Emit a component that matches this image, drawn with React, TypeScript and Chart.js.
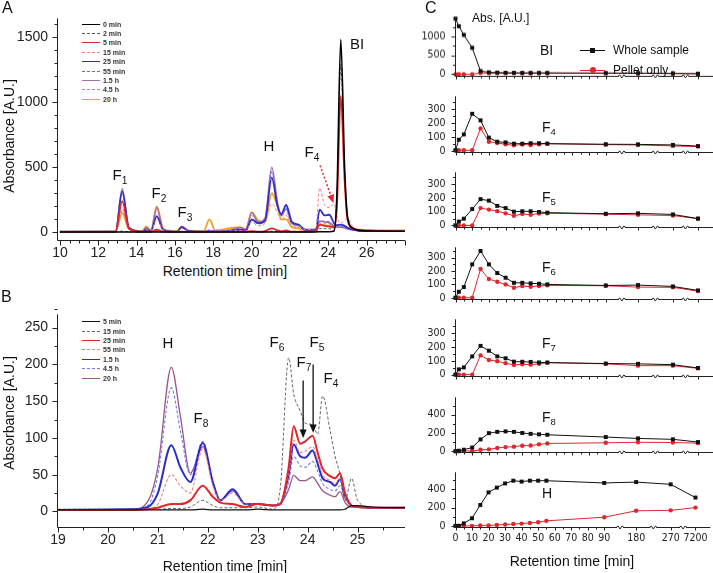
import React, { useEffect, useRef } from "react";
import { Chart, registerables } from "chart.js";

Chart.register(...registerables);

const SANS = "'Liberation Sans', Arial, Helvetica, sans-serif";
const NARROW = "'Liberation Sans Narrow', 'DejaVu Sans Condensed', 'Liberation Sans', Arial, sans-serif";

// ---------------- Panel A data (retention time [min] vs absorbance) ----------------
const timesA = [10, 12.9, 13.25, 13.6, 14.3, 14.5, 14.75, 15.05, 15.4, 16.1, 16.35, 16.7, 17.5, 17.8, 18.1, 18.8, 19.4, 19.7, 20.0, 20.35, 20.7, 21.05, 21.35, 21.55, 21.8, 22.1, 22.45, 22.8, 23.35, 23.55, 23.8, 24.05, 24.3, 24.45, 24.65, 24.85, 25.0, 25.3, 25.6, 26.5, 28];
const a0min = [3, 3, 3, 3, 3, 3, 3, 3, 3, 3, 3, 3, 3, 3, 3, 3, 3, 3, 3, 3, 3, 3, 3, 3, 3, 3, 3, 3, 3, 5, 5, 5, 10, 300, 1480, 500, 120, 30, 15, 10, 8];
const a2min = [3, 3, 10, 3, 3, 3, 3, 5, 3, 3, 3, 3, 3, 3, 3, 3, 3, 3, 5, 3, 3, 10, 5, 3, 3, 3, 3, 3, 5, 30, 28, 28, 25, 260, 1290, 450, 110, 30, 15, 10, 8];
const a5min = [3, 5, 240, 30, 5, 5, 5, 20, 5, 3, 5, 3, 3, 3, 3, 3, 3, 3, 10, 5, 10, 30, 15, 8, 15, 5, 5, 5, 10, 60, 50, 45, 40, 200, 1050, 400, 100, 30, 18, 12, 10];
const a15min = [3, 5, 165, 25, 5, 20, 10, 100, 15, 5, 30, 8, 5, 15, 5, 10, 15, 10, 80, 50, 70, 220, 150, 90, 130, 50, 50, 20, 30, 340, 210, 190, 220, 120, 70, 90, 105, 40, 20, 12, 10];
const a25min = [5, 5, 315, 35, 5, 20, 10, 125, 15, 5, 40, 10, 5, 10, 5, 10, 20, 15, 100, 70, 90, 420, 200, 140, 210, 80, 60, 20, 20, 175, 130, 135, 70, 55, 60, 50, 35, 20, 12, 10, 10];
const a55min = [5, 5, 300, 35, 5, 20, 10, 120, 15, 5, 38, 10, 5, 10, 5, 10, 20, 15, 90, 65, 85, 460, 210, 130, 190, 70, 55, 20, 20, 90, 85, 80, 55, 50, 45, 40, 30, 18, 12, 10, 10];
const a1_5h = [5, 5, 335, 35, 5, 35, 12, 190, 20, 5, 45, 12, 5, 15, 8, 15, 35, 20, 150, 80, 110, 500, 230, 130, 180, 70, 50, 20, 20, 85, 80, 75, 45, 42, 40, 35, 25, 18, 12, 10, 10];
const a4_5h = [5, 5, 180, 25, 5, 30, 10, 170, 20, 5, 40, 10, 5, 20, 8, 20, 30, 20, 130, 75, 100, 470, 220, 120, 150, 60, 45, 20, 20, 70, 70, 65, 45, 40, 38, 32, 25, 18, 12, 10, 10];
const a20h = [5, 5, 150, 25, 10, 45, 15, 200, 25, 8, 45, 15, 10, 100, 15, 30, 40, 25, 155, 90, 80, 300, 200, 100, 100, 40, 30, 15, 20, 60, 55, 50, 40, 40, 45, 40, 35, 30, 20, 15, 15];
const seriesA = [a0min, a2min, a5min, a15min, a25min, a55min, a1_5h, a4_5h, a20h];
const labelsA = ["0 min", "2 min", "5 min", "15 min", "25 min", "55 min", "1.5 h", "4.5 h", "20 h"];
const xTickLabelsA = [10, 12, 14, 16, 18, 20, 22, 24, 26];
const yTickLabelsA = [0, 500, 1000, 1500];

// ---------------- Panel B data ----------------
const timesB = [19, 20.5, 20.8, 21.0, 21.27, 21.45, 21.65, 21.9, 22.1, 22.25, 22.5, 22.75, 23.0, 23.3, 23.45, 23.62, 23.72, 23.85, 23.95, 24.1, 24.2, 24.3, 24.45, 24.55, 24.65, 24.75, 24.88, 25.0, 25.3, 26];
const b5min = [2, 2, 2, 2, 2, 2, 2, 3, 2, 2, 2, 2, 3, 2, 2, 2, 2, 2, 2, 2, 2, 2, 2, 2, 2, 3, 8, 8, 6, 5];
const b15min = [3, 3, 3, 3, 4, 4, 6, 15, 8, 5, 5, 5, 6, 3, 30, 209, 160, 137, 120, 118, 105, 157, 110, 75, 50, 15, 45, 15, 5, 5];
const b25min = [2, 2, 3, 5, 10, 10, 15, 35, 20, 12, 10, 6, 10, 8, 10, 60, 116, 92, 95, 103, 80, 58, 48, 45, 52, 25, 8, 6, 5, 5];
const b55min = [2, 2, 3, 10, 50, 35, 25, 85, 35, 15, 25, 10, 10, 8, 10, 50, 97, 80, 82, 88, 70, 50, 42, 38, 45, 20, 8, 6, 5, 5];
const b1_5h = [2, 3, 6, 25, 90, 60, 40, 93, 40, 15, 30, 10, 10, 8, 10, 50, 91, 75, 73, 83, 65, 45, 40, 35, 44, 20, 8, 6, 5, 5];
const b4_5h = [2, 3, 8, 50, 168, 110, 50, 95, 40, 15, 28, 10, 10, 8, 10, 40, 75, 62, 60, 68, 55, 38, 30, 28, 35, 18, 8, 6, 5, 5];
const b20h = [2, 3, 14, 60, 196, 130, 52, 88, 40, 15, 28, 10, 10, 8, 10, 30, 49, 42, 42, 47, 38, 28, 22, 20, 27, 12, 6, 6, 5, 5];
const seriesB = [b5min, b15min, b25min, b55min, b1_5h, b4_5h, b20h];
const labelsB = ["5 min", "15 min", "25 min", "55 min", "1.5 h", "4.5 h", "20 h"];
const xTickLabelsB = [19, 20, 21, 22, 23, 24, 25];
const yTickLabelsB = [0, 50, 100, 150, 200, 250];

// ---------------- Panel C data (incubation time [min]) ----------------
const cTimes = [0, 2, 5, 10, 15, 20, 25, 30, 35, 40, 45, 50, 55, 90, 180, 270, 7200];
const biWhole = [1470, 1270, 1040, 700, 85, 52, 45, 40, 38, 36, 35, 35, 35, 32, 30, 25, 15];
const biPellet = [0, 0, 0, 0, 35, 30, 30, 30, 30, 30, 30, 30, 30, 28, 25, 20, 15];
const f4Whole = [5, 80, 118, 265, 218, 95, 66, 61, 52, 52, 55, 55, 52, 48, 47, 43, 35];
const f4Pellet = [5, 5, 5, 5, 161, 66, 57, 48, 40, 47, 43, 48, 52, 45, 43, 36, 31];
const f5Whole = [0, 28, 49, 119, 191, 180, 142, 126, 100, 103, 103, 98, 93, 85, 88, 80, 50];
const f5Pellet = [0, 0, 0, 0, 126, 115, 104, 88, 70, 84, 77, 86, 89, 82, 77, 72, 49];
const f6Whole = [0, 45, 80, 250, 350, 250, 185, 150, 112, 112, 108, 105, 100, 92, 95, 85, 55];
const f6Pellet = [0, 0, 0, 0, 215, 140, 120, 100, 75, 88, 83, 88, 93, 90, 80, 78, 50];
const f7Whole = [0, 38, 52, 132, 208, 173, 132, 118, 94, 93, 92, 88, 87, 80, 78, 72, 48];
const f7Pellet = [0, 0, 0, 0, 139, 106, 97, 83, 70, 75, 72, 78, 87, 78, 65, 65, 45];
const f8Whole = [0, 5, 16, 40, 129, 198, 212, 217, 212, 200, 190, 185, 180, 155, 140, 130, 100];
const f8Pellet = [0, 0, 5, 0, 15, 20, 35, 45, 50, 60, 62, 75, 85, 92, 98, 95, 88];
const hWhole = [0, 0, 27, 83, 229, 367, 419, 465, 495, 485, 495, 495, 495, 470, 480, 455, 310];
const hPellet = [0, 0, 0, 0, 5, 5, 10, 15, 20, 25, 32, 40, 55, 95, 165, 170, 200];
const cTickLabels = [0, 10, 20, 30, 40, 50, 60, 70, 80, 90, 180, 270, 7200];

// broken time axis: linear up to 90 min, then one slot each for 180, 270 and 7200
const cBreakSlots: Record<number, number> = { 180: 109.3, 270: 130.2, 7200: 145.2 };
const cBreakMarks = [99.6, 119.7, 137.7];
const cAxisPos = (t: number) => (t <= 90 ? t : cBreakSlots[t]);
const cPosLabel = (p: number) => {
  const t = cTickLabels.find((v) => Math.abs(cAxisPos(v) - p) < 0.01);
  return t === undefined ? "" : String(t);
};

// ---------------- styles ----------------
const stylesA = [
  { c: "#000000", w: 1.6, d: [] },
  { c: "#555555", w: 1, d: [3, 2] },
  { c: "#e3262a", w: 1.8, d: [] },
  { c: "#f07f86", w: 1, d: [3, 2] },
  { c: "#3030c8", w: 1.8, d: [] },
  { c: "#5c6ae0", w: 1, d: [3, 2] },
  { c: "#a070b0", w: 1.5, d: [] },
  { c: "#d87898", w: 1, d: [3, 2] },
  { c: "#f0a21e", w: 1.8, d: [] },
];
const stylesB = [
  { c: "#111111", w: 1.2, d: [] },
  { c: "#666666", w: 1, d: [3, 2] },
  { c: "#e3262a", w: 2, d: [] },
  { c: "#ee7f7a", w: 1.1, d: [3, 2] },
  { c: "#2b2bc9", w: 2, d: [] },
  { c: "#6f7fe6", w: 1.1, d: [3, 2] },
  { c: "#9b5588", w: 1.3, d: [] },
];

const range = (a: number, b: number, s: number) => {
  const r: number[] = [];
  for (let v = a; v <= b + 1e-9; v += s) r.push(Math.round(v * 1000) / 1000);
  return r;
};

// ---------------- plugin: axis lines, tick marks, break marks, arrows ----------------
const axesPlugin = {
  id: "axesDraw",
  afterDraw(chart: any, _a: any, opts: any) {
    const { ctx, chartArea: ca, scales } = chart;
    const xs = scales.x;
    const ys = scales.y;
    ctx.save();
    ctx.strokeStyle = "#222";
    ctx.lineWidth = 1;
    ctx.setLineDash([]);
    const L = Math.round(ca.left) - 0.5;
    const B = Math.round(ca.bottom) + 0.5;
    ctx.beginPath();
    ctx.moveTo(L, ca.top);
    ctx.lineTo(L, B);
    ctx.moveTo(L, B);
    ctx.lineTo(ca.right, B);
    (opts.xTicks || []).forEach(([v, len]: number[]) => {
      const p = Math.round(xs.getPixelForValue(v)) + 0.5;
      ctx.moveTo(p, B);
      ctx.lineTo(p, B + len);
    });
    (opts.yTicks || []).forEach(([v, len]: number[]) => {
      const p = Math.round(ys.getPixelForValue(v)) + 0.5;
      ctx.moveTo(L - len, p);
      ctx.lineTo(L, p);
    });
    ctx.stroke();
    (opts.breaks || []).forEach((v: number) => {
      const p = xs.getPixelForValue(v);
      ctx.fillStyle = "#fff";
      ctx.fillRect(p - 3, B - 1.5, 6, 3);
      ctx.beginPath();
      ctx.moveTo(p - 4, B);
      ctx.lineTo(p - 2, B - 1.5);
      ctx.lineTo(p, B + 1.5);
      ctx.lineTo(p + 2, B - 1.5);
      ctx.lineTo(p + 4, B);
      ctx.stroke();
    });
    (opts.arrows || []).forEach((a: any) => {
      const x1 = xs.getPixelForValue(a.from[0]);
      const y1 = ys.getPixelForValue(a.from[1]);
      const x2 = xs.getPixelForValue(a.to[0]);
      const y2 = ys.getPixelForValue(a.to[1]);
      const ang = Math.atan2(y2 - y1, x2 - x1);
      const h = a.head;
      ctx.strokeStyle = a.color;
      ctx.fillStyle = a.color;
      ctx.lineWidth = a.width;
      ctx.setLineDash(a.dash || []);
      ctx.beginPath();
      ctx.moveTo(x1, y1);
      ctx.lineTo(x2 - Math.cos(ang) * h * 0.8, y2 - Math.sin(ang) * h * 0.8);
      ctx.stroke();
      ctx.setLineDash([]);
      ctx.beginPath();
      ctx.moveTo(x2, y2);
      ctx.lineTo(x2 - Math.cos(ang - 0.4) * h, y2 - Math.sin(ang - 0.4) * h);
      ctx.lineTo(x2 - Math.cos(ang + 0.4) * h, y2 - Math.sin(ang + 0.4) * h);
      ctx.closePath();
      ctx.fill();
    });
    ctx.restore();
  },
};

function lineConfig(p: any) {
  return {
    type: "line",
    data: { datasets: p.datasets },
    options: {
      animation: false,
      responsive: false,
      devicePixelRatio: 1,
      events: [],
      layout: { padding: { top: p.padTop, right: p.padRight || 0, left: 0, bottom: 0 }, autoPadding: false },
      plugins: {
        legend: { display: false },
        tooltip: { enabled: false },
        axesDraw: { xTicks: p.xMarks, yTicks: p.yMarks, arrows: p.arrows || [], breaks: p.breaks || [] },
      },
      scales: {
        x: {
          type: "linear",
          min: p.xMin,
          max: p.xMax,
          grid: { display: false, drawTicks: false },
          border: { display: false },
          ticks: {
            display: p.showX !== false,
            padding: p.xPad,
            font: { family: p.font, size: p.fontSize },
            color: "#222",
            maxRotation: 0,
            autoSkip: false,
            callback: p.xLabel || ((v: number) => String(v)),
          },
          afterBuildTicks: (s: any) => {
            s.ticks = p.xTicks.map((v: number) => ({ value: v }));
          },
          afterFit: (s: any) => {
            s.height = p.xHeight;
          },
        },
        y: {
          type: "linear",
          min: p.yMin,
          max: p.yMax,
          grid: { display: false, drawTicks: false },
          border: { display: false },
          ticks: {
            padding: p.yPad,
            font: { family: p.font, size: p.fontSize },
            color: "#222",
            autoSkip: false,
            callback: (v: number) => String(v),
          },
          afterBuildTicks: (s: any) => {
            s.ticks = p.yTicks.map((v: number) => ({ value: v }));
          },
          afterFit: (s: any) => {
            s.width = p.yWidth;
          },
        },
      },
    },
    plugins: [axesPlugin],
  };
}

function ChartBox({ left, top, width, height, make }: any) {
  const ref = useRef<HTMLCanvasElement>(null);
  useEffect(() => {
    const chart = new Chart(ref.current as HTMLCanvasElement, make() as any);
    return () => chart.destroy();
  }, []);
  return (
    <canvas
      ref={ref}
      width={width}
      height={height}
      style={{ position: "absolute", left, top, width, height }}
    />
  );
}

const chromDatasets = (times: number[], series: number[][], labels: string[], styles: any[]) =>
  series.map((vals, i) => ({
    label: labels[i],
    data: times.map((t, j) => ({ x: t, y: vals[j] })),
    borderColor: styles[i].c,
    borderWidth: styles[i].w,
    borderDash: styles[i].d,
    pointRadius: 0,
    fill: false,
    cubicInterpolationMode: "monotone",
  }));

const makeA = () =>
  lineConfig({
    datasets: chromDatasets(timesA, seriesA, labelsA, stylesA),
    xMin: 9.9,
    xMax: 28,
    yMin: -55,
    yMax: 1643,
    xTicks: xTickLabelsA,
    yTicks: yTickLabelsA,
    xMarks: [...range(10, 28, 2).map((v) => [v, 5]), ...range(10.5, 27.5, 1).map((v) => [v, 3]), ...range(11, 27, 2).map((v) => [v, 3])],
    yMarks: [...yTickLabelsA.map((v) => [v, 5]), ...range(100, 1600, 100).filter((v) => v % 500 !== 0).map((v) => [v, 3])],
    padTop: 17,
    padRight: 5,
    yWidth: 58,
    xHeight: 22.5,
    xPad: 5,
    yPad: 10,
    font: SANS,
    fontSize: 14,
    arrows: [{ from: [23.57, 514], to: [24.27, 225], color: "#e3262a", width: 1.5, dash: [2, 2], head: 9 }],
  });

const makeB = () =>
  lineConfig({
    datasets: chromDatasets(timesB, seriesB, labelsB, stylesB),
    xMin: 19,
    xMax: 25.95,
    yMin: -20.8,
    yMax: 268,
    xTicks: xTickLabelsB,
    yTicks: yTickLabelsB,
    xMarks: [...range(19, 25, 1).map((v) => [v, 5]), ...range(19.5, 25.5, 1).map((v) => [v, 3])],
    yMarks: [...yTickLabelsB.map((v) => [v, 5]), ...range(25, 275, 50).map((v) => [v, 3])],
    padTop: 9,
    padRight: 5,
    yWidth: 58,
    xHeight: 46.3,
    xPad: 5,
    yPad: 10,
    font: SANS,
    fontSize: 14,
    arrows: [
      { from: [23.91, 178], to: [23.91, 100], color: "#111", width: 1.3, dash: [], head: 9 },
      { from: [24.11, 200], to: [24.11, 107], color: "#111", width: 1.3, dash: [], head: 9 },
    ],
  });

// C sub-panels: plot-area top/bottom in page pixels and value range
const cPanels = [
  { name: "BI", whole: biWhole, pellet: biPellet, top: 7.2, bottom: 86, min: -33, max: 1500, ticks: [0, 500, 1000], minor: [250, 750, 1250] },
  { name: "F4", whole: f4Whole, pellet: f4Pellet, top: 86, bottom: 162, min: -5.2, max: 389.6, ticks: [0, 100, 200, 300], minor: [50, 150, 250, 350] },
  { name: "F5", whole: f5Whole, pellet: f5Pellet, top: 162, bottom: 237, min: -9, max: 385.8, ticks: [0, 100, 200, 300], minor: [50, 150, 250, 350] },
  { name: "F6", whole: f6Whole, pellet: f6Pellet, top: 237, bottom: 309.3, min: -6.9, max: 377.7, ticks: [0, 100, 200, 300], minor: [50, 150, 250, 350] },
  { name: "F7", whole: f7Whole, pellet: f7Pellet, top: 309.3, bottom: 386.5, min: -7.9, max: 400.5, ticks: [0, 100, 200, 300], minor: [50, 150, 250, 350] },
  { name: "F8", whole: f8Whole, pellet: f8Pellet, top: 386.5, bottom: 461.7, min: -5.6, max: 591, ticks: [0, 200, 400], minor: [100, 300, 500] },
  { name: "H", whole: hWhole, pellet: hPellet, top: 461.7, bottom: 526.7, min: -9.2, max: 587, ticks: [0, 200, 400], minor: [100, 300, 500] },
];
const C_PAD = 6;
const C_LEFT = 400;
const C_WIDTH = 313;

const makeC = (pn: any, last: boolean) => () =>
  lineConfig({
    datasets: [
      {
        label: "Whole sample",
        data: cTimes.map((t, j) => ({ x: cAxisPos(t), y: pn.whole[j] })),
        borderColor: "#111",
        backgroundColor: "#111",
        borderWidth: 1,
        pointStyle: "rect",
        pointRadius: 2.8,
        pointBorderWidth: 0,
        tension: 0,
        clip: false,
      },
      {
        label: "Pellet only",
        data: cTimes.map((t, j) => ({ x: cAxisPos(t), y: pn.pellet[j] })),
        borderColor: "#e3262a",
        backgroundColor: "#e3262a",
        borderWidth: 1,
        pointStyle: "circle",
        pointRadius: 2.2,
        pointBorderWidth: 0,
        tension: 0,
        clip: false,
      },
    ],
    xMin: 0,
    xMax: 154.2,
    yMin: pn.min,
    yMax: pn.max,
    xTicks: cTickLabels.map(cAxisPos),
    yTicks: pn.ticks,
    xLabel: cPosLabel,
    showX: last,
    xMarks: [...cTickLabels.map((v) => [cAxisPos(v), 3]), ...range(5, 85, 10).map((v) => [v, 2])],
    yMarks: [...pn.ticks.map((v: number) => [v, 4]), ...pn.minor.map((v: number) => [v, 2.5])],
    breaks: cBreakMarks,
    padTop: C_PAD,
    padRight: 0,
    yWidth: 55.5,
    xHeight: last ? 573 - pn.bottom : C_PAD,
    xPad: 5.5,
    yPad: 10,
    font: NARROW,
    fontSize: 10.5,
  });

// ---------------- text helpers ----------------
const T = ({ x, y, size = 15, children, left = false, rotate = 0, family = SANS, color = "#111" }: any) => (
  <div
    style={{
      position: "absolute",
      left: x,
      top: y,
      transform: `translate(${left ? "0" : "-50%"}, -50%)${rotate ? ` rotate(${rotate}deg)` : ""}`,
      fontSize: size,
      fontFamily: family,
      color,
      whiteSpace: "nowrap",
      lineHeight: 1,
    }}
  >
    {children}
  </div>
);
const Sub = ({ children }: any) => (
  <span style={{ fontSize: "0.68em", position: "relative", top: "0.35em" }}>{children}</span>
);

const Legend = ({ x, y, labels, styles }: any) => (
  <>
    {labels.map((lab: string, i: number) => (
      <div key={lab} style={{ position: "absolute", left: x, top: y + i * 9.4 - 5, height: 10, display: "flex", alignItems: "center" }}>
        <div
          style={{
            width: 18,
            height: 0,
            borderTop: `${Math.max(1, styles[i].w * 0.9)}px ${styles[i].d.length ? "dashed" : "solid"} ${styles[i].c}`,
          }}
        />
        <span style={{ marginLeft: 3, fontSize: 7, fontFamily: SANS, fontWeight: "bold", color: "#333" }}>{lab}</span>
      </div>
    ))}
  </>
);

export default function App() {
  return (
    <div style={{ position: "absolute", left: 0, top: 0, width: 713, height: 573, background: "#fff", overflow: "hidden" }}>
      <ChartBox left={0} top={0} width={410} height={262} make={makeA} />
      <ChartBox left={0} top={296} width={410} height={277} make={makeB} />
      {cPanels.map((pn, i) => {
        const last = i === cPanels.length - 1;
        const h = pn.bottom - pn.top + C_PAD + (last ? 573 - pn.bottom : C_PAD);
        return (
          <ChartBox key={pn.name} left={C_LEFT} top={pn.top - C_PAD} width={C_WIDTH} height={h} make={makeC(pn, last)} />
        );
      })}

      {/* Panel letters */}
      <T x={2} y={8} size={16} left>A</T>
      <T x={1} y={297} size={16} left>B</T>
      <T x={425} y={8} size={16} left>C</T>

      {/* Axis titles */}
      <T x={9} y={136} size={14} rotate={-90}>Absorbance [A.U.]</T>
      <T x={225} y={271} size={14}>Retention time [min]</T>
      <T x={9} y={413} size={14} rotate={-90}>Absorbance [A.U.]</T>
      <T x={225} y={566} size={14}>Retention time [min]</T>
      <T x={572} y={561} size={14}>Retention time [min]</T>
      <T x={472} y={18} size={12} left>Abs. [A.U.]</T>

      {/* Legends */}
      <Legend x={82} y={24} labels={labelsA} styles={stylesA} />
      <Legend x={82} y={321.7} labels={labelsB} styles={stylesB} />

      {/* Panel A peak labels */}
      <T x={120} y={175}>F<Sub>1</Sub></T>
      <T x={159} y={193}>F<Sub>2</Sub></T>
      <T x={185} y={212}>F<Sub>3</Sub></T>
      <T x={269} y={145}>H</T>
      <T x={312} y={152}>F<Sub>4</Sub></T>
      <T x={357} y={43}>BI</T>

      {/* Panel B peak labels */}
      <T x={168} y={342}>H</T>
      <T x={201} y={418}>F<Sub>8</Sub></T>
      <T x={277} y={342}>F<Sub>6</Sub></T>
      <T x={304} y={362}>F<Sub>7</Sub></T>
      <T x={317} y={342}>F<Sub>5</Sub></T>
      <T x={331} y={378}>F<Sub>4</Sub></T>

      {/* Panel C labels */}
      <T x={540} y={50} size={14} left>BI</T>
      <T x={542} y={127} size={14} left>F<Sub>4</Sub></T>
      <T x={542} y={197} size={14} left>F<Sub>5</Sub></T>
      <T x={542} y={267} size={14} left>F<Sub>6</Sub></T>
      <T x={542} y={343} size={14} left>F<Sub>7</Sub></T>
      <T x={542} y={417} size={14} left>F<Sub>8</Sub></T>
      <T x={542} y={493} size={14} left>H</T>

      {/* Panel C legend */}
      <div style={{ position: "absolute", left: 580, top: 50, width: 25, height: 0, borderTop: "1px solid #111" }} />
      <div style={{ position: "absolute", left: 590, top: 47.5, width: 5, height: 5, background: "#111" }} />
      <T x={613} y={50} size={12} left>Whole sample</T>
      <div style={{ position: "absolute", left: 580, top: 70, width: 25, height: 0, borderTop: "1px solid #e3262a" }} />
      <div style={{ position: "absolute", left: 589.5, top: 67, width: 6, height: 6, borderRadius: 3, background: "#e3262a" }} />
      <T x={613} y={70} size={12} left>Pellet only</T>
    </div>
  );
}
